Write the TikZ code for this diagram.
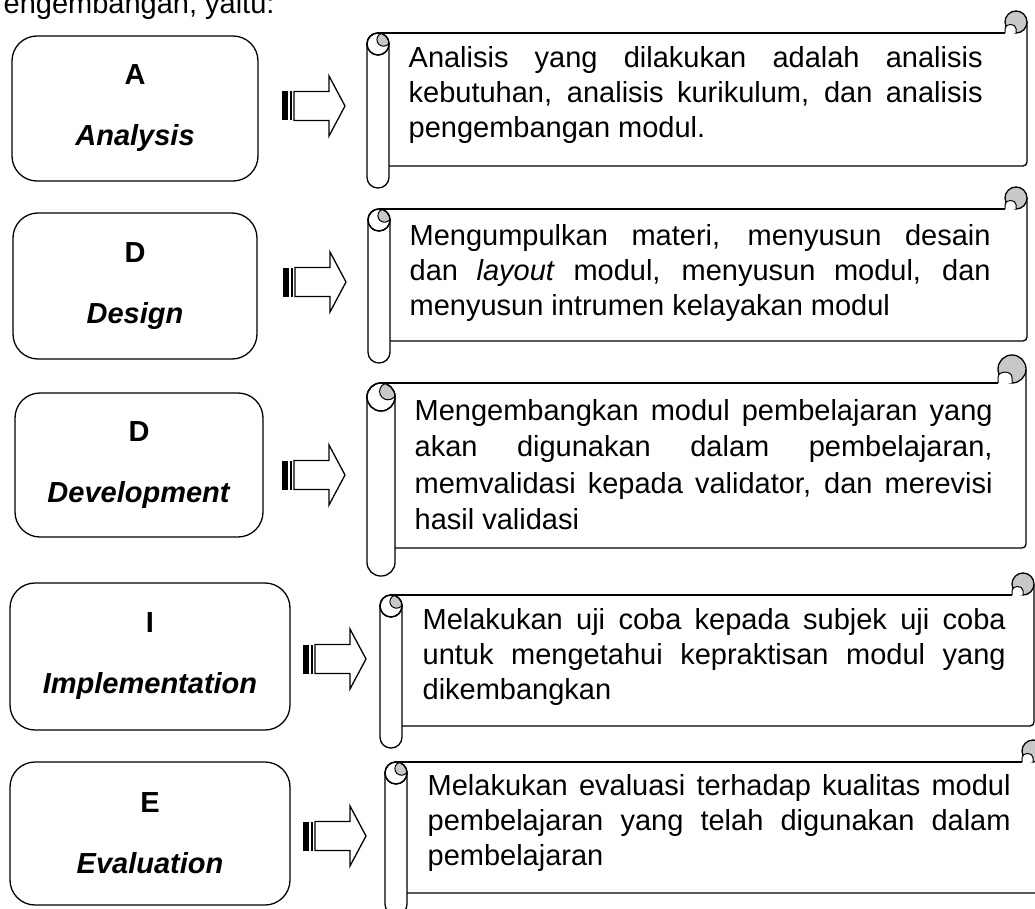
\documentclass[tikz,border=0pt]{standalone}
\usepackage{fontspec}
\setmainfont{Liberation Sans}

\definecolor{curlgray}{RGB}{200,200,200}

% vertical scroll: x0, y0 (top of curl), x1, y1 (bottom of roll), roll width
\newcommand{\vscroll}[5]{%
  \draw[fill=white, rounded corners={#5*0.49pt}] (#1,{#2+#5}) rectangle ({#1+#5},#4);
  \draw[rounded corners=4pt] ({#1+#5},{#4-#5}) -- (#3,{#4-#5}) -- (#3,{#2+#5/2});
  \draw ({#1+#5/2},{#2+#5}) -- ({#3-#5},{#2+#5});
  \draw[fill=curlgray] ({#3-#5/2},{#2+#5/2}) circle[radius={#5/2}];
  \draw[fill=white, line width=1pt] ({#3-#5},{#2+#5}) -- ({#3-#5},{#2+0.8*#5}) .. controls ({#3-#5},{#2+0.55*#5}) and ({#3-#5/2},{#2+0.55*#5}) .. ({#3-#5/2},{#2+0.8*#5}) -- ({#3-#5/2},{#2+#5});
  \draw[fill=white] ({#1+#5/2},{#2+1.5*#5}) circle[radius={#5/2}];
  \begin{scope}
    \clip ({#1+#5/2},{#2+1.5*#5}) circle[radius={#5/2}];
    \draw[fill=curlgray, line width=1pt] ({#1+0.75*#5},{#2+1.3*#5}) circle[radius={#5*0.3}];
  \end{scope}
  \draw ({#1+#5/2},{#2+1.5*#5}) circle[radius={#5/2}];
}

% striped block arrow: left end, middle
\newcommand{\stripedarrow}[2]{%
  \fill (#1,{#2-14.5}) rectangle ({#1+6},{#2+14.5});
  \fill ({#1+8},{#2-14.5}) rectangle ({#1+10},{#2+14.5});
  \draw ({#1+12},{#2-14.5}) -- ({#1+47},{#2-14.5}) -- ({#1+47},{#2-30}) -- ({#1+63},#2)
    -- ({#1+47},{#2+30}) -- ({#1+47},{#2+14.5}) -- ({#1+12},{#2+14.5}) -- cycle;
}

\begin{document}
\begin{tikzpicture}[x=1pt, y=-1pt, line width=1.3pt,
    stage/.style={draw, rounded corners=25pt, align=center, inner sep=0pt,
      font=\fontsize{29}{35}\selectfont\bfseries},
    desc/.style={anchor=base west, inner sep=0pt, align=justify,
      font=\fontsize{29}{35}\selectfont}]
  \useasboundingbox (0,0) rectangle (1035,909);

  \node[anchor=base west, inner sep=0pt, font=\fontsize{29}{35}\selectfont] (intro) at (3,14) {engembangan, yaitu:};

  % Analysis
  \node[stage, minimum width=246pt, minimum height=145pt] (analysis) at (135,108.5) {A\\[26pt]\textit{Analysis}};
  \stripedarrow{282}{106}
  \vscroll{367}{11}{1027}{188}{22}
  \node[desc, text width=574pt] (analysistext) at (408,68)
    {Analisis yang dilakukan adalah analisis\linebreak kebutuhan, analisis kurikulum, dan analisis\linebreak pengembangan modul.};

  % Design
  \node[stage, minimum width=244pt, minimum height=146pt] (design) at (135,286) {D\\[26pt]\textit{Design}};
  \stripedarrow{283}{282}
  \vscroll{368}{187}{1027}{363}{22}
  \node[desc, text width=581pt] (designtext) at (409,246)
    {Mengumpulkan materi, menyusun desain\linebreak dan \textit{layout} modul, menyusun modul, dan\linebreak menyusun intrumen kelayakan modul};

  % Development
  \node[stage, minimum width=248pt, minimum height=144pt] (development) at (139,465) {D\\[26pt]\textit{Development}};
  \stripedarrow{282}{475}
  \vscroll{367}{355}{1026}{576}{28}
  \node[desc, text width=578pt, font=\fontsize{29}{36.5}\selectfont] (developmenttext) at (414,420)
    {Mengembangkan modul pembelajaran yang\linebreak akan digunakan dalam pembelajaran,\linebreak memvalidasi kepada validator, dan merevisi\linebreak hasil validasi};

  % Implementation
  \node[stage, minimum width=280pt, minimum height=147pt] (implementation) at (150,656.5) {I\\[26pt]\textit{Implementation}};
  \stripedarrow{303}{659}
  \vscroll{380}{573}{1034}{748}{22}
  \node[desc, text width=583pt] (implementationtext) at (422,629)
    {Melakukan uji coba kepada subjek uji coba\linebreak untuk mengetahui kepraktisan modul yang\linebreak dikembangkan};

  % Evaluation
  \node[stage, minimum width=280pt, minimum height=143pt] (evaluation) at (150,833.5) {E\\[26pt]\textit{Evaluation}};
  \stripedarrow{303}{836}
  \vscroll{385}{740}{1044}{915}{22}
  \node[desc, text width=583pt] (evaluationtext) at (427,795)
    {Melakukan evaluasi terhadap kualitas modul\linebreak pembelajaran yang telah digunakan dalam\linebreak pembelajaran};
\end{tikzpicture}
\end{document}
